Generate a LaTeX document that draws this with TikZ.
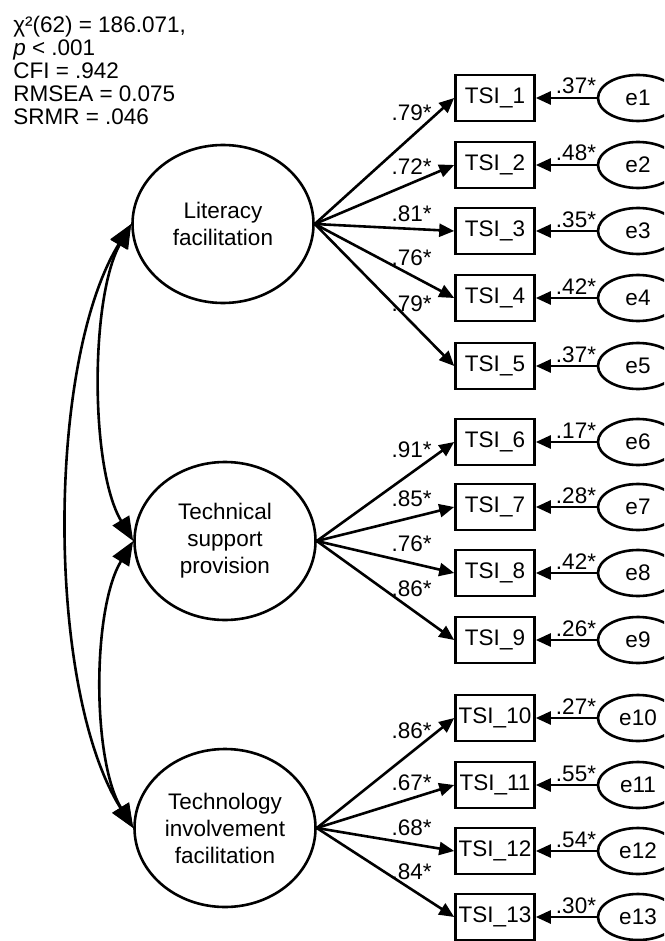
\documentclass[tikz,border=0pt]{standalone}
\usepackage{fontspec}
\setmainfont{Liberation Sans}
\usetikzlibrary{arrows.meta,shapes.geometric}

\begin{document}
\begin{tikzpicture}[x=1pt, y=-1pt, line width=2.6pt,
  lbl/.style={font=\fontsize{22.5}{27}\selectfont},
  latent/.style={draw, ellipse, minimum width=181pt, minimum height=158pt,
                 align=center, inner sep=0pt, lbl},
  item/.style={draw, rectangle, minimum width=79pt, minimum height=46pt,
               inner sep=0pt, lbl},
  err/.style={draw, ellipse, minimum width=80pt, minimum height=46pt,
              inner sep=0pt, lbl},
  load/.style={-{Triangle[length=15pt,width=13pt]}},
  cov/.style={{Triangle[length=24pt,width=19pt]}-{Triangle[length=24pt,width=19pt]}},
  coef/.style={lbl, inner sep=0pt, anchor=base east},
  ecoef/.style={lbl, inner sep=0pt, anchor=base},
  fitline/.style={lbl, inner sep=0pt, anchor=base west},
]
\useasboundingbox (0,0) rectangle (664,941);
\clip (0,0) rectangle (664,941);

% fit indices
\node[fitline] (chi)   at (12,33)  {χ²(62) = 186.071,};
\node[fitline] (pval)  at (12,56)  {\textit{p} < .001};
\node[fitline] (cfi)   at (12,79)  {CFI = .942};
\node[fitline] (rmsea) at (12,102) {RMSEA = 0.075};
\node[fitline] (srmr)  at (12,125) {SRMR = .046};

% latent factors
\node[latent] (lit)  at (223,224) {Literacy\\facilitation};
\node[latent] (tech) at (225,541) {Technical\\support\\provision};
\node[latent] (inv)  at (225,828) {Technology\\involvement\\facilitation};

% indicators with their error terms
\foreach \i/\y/\ev in {1/98/.37,2/165/.48,3/231/.35,4/298/.42,5/366/.37,
                       6/442/.17,7/507/.28,8/573/.42,9/640/.26,
                       10/718/.27,11/785/.55,12/851/.54,13/917/.30} {
  \node[item] (t\i) at (495,\y) {TSI\_\i};
  \node[err]  (e\i) at (638,\y) {e\i};
  \draw[load] (e\i) -- (t\i);
  \node[ecoef] (ec\i) at (576,\y-4) {\ev*};
}

% factor loadings
\foreach \i in {1,...,5}  { \draw[load] (lit.east)  -- (t\i.west); }
\foreach \i in {6,...,9}  { \draw[load] (tech.east) -- (t\i.west); }
\foreach \i in {10,...,13}{ \draw[load] (inv.east)  -- (t\i.west); }

\foreach \i/\y/\v in {1/121/.79,2/175/.72,3/222/.81,4/265/.76,5/311/.79,
                      6/457/.91,7/506/.85,8/551/.76,9/596/.86,
                      10/738/.86,11/790/.67,12/835/.68,13/879/.84} {
  \node[coef] (lc\i) at (433,\y) {\v*};
}

% factor covariances
\draw[cov] (lit.west)  .. controls (90,298) and (90,469) .. (tech.west);
\draw[cov] (tech.west) .. controls (92,609) and (92,760) .. (inv.west);
\draw[cov] (lit.west)  .. controls (46,362) and (46,690) .. (inv.west);
\end{tikzpicture}
\end{document}
